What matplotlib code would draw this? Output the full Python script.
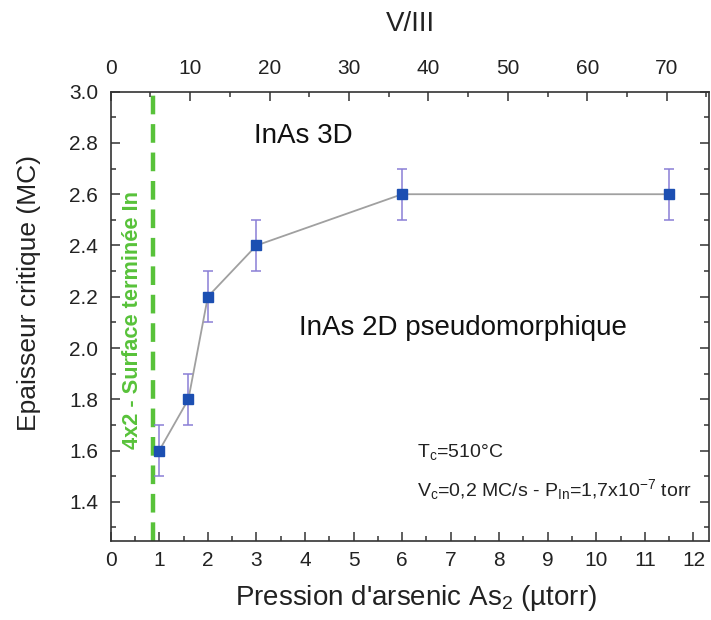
"""
Epaisseur critique InAs vs pression d'arsenic As2 (axe du haut : rapport V/III)
"""

import matplotlib
matplotlib.use('Agg')
import matplotlib.pyplot as plt
from matplotlib.ticker import MultipleLocator, FormatStrFormatter

plt.rcParams['font.family'] = ['Liberation Sans', 'DejaVu Sans']
plt.rcParams['mathtext.default'] = 'regular'

# Data
pression_as2 = [1.0, 1.6, 2.0, 3.0, 6.0, 11.5]     # µtorr
epaisseur = [1.6, 1.8, 2.2, 2.4, 2.6, 2.6]         # MC
erreur = [0.1, 0.1, 0.1, 0.1, 0.1, 0.1]
transition_4x2 = 0.88                             # green dashed line (µtorr)
v3_par_ptorr = 70 / 11.45                          # V/III per µtorr (top axis scale)

fig = plt.figure(figsize=(7.11, 6.2), dpi=100)
ax = fig.add_axes([110.7 / 711, 1 - 541 / 620, (709.5 - 110.7) / 711, (541 - 91.7) / 620])

spine_col = '#333333'
text_col = '#222222'

# Dashed line for the 4x2 reconstruction limit
ax.axvline(transition_4x2, color='#58c23a', linestyle=(0, (4.2, 2.2)), linewidth=3.2, zorder=1)
ax.text(transition_4x2 - 0.44, 2.11, '4x2 - Surface terminée In', rotation=90,
        color='#58c23a', fontsize=15.7, fontweight='bold', ha='center', va='center')

# Data with error bars
ax.errorbar(pression_as2, epaisseur, yerr=erreur, fmt='none', ecolor='#8a7fd6',
            elinewidth=1.1, capsize=3.8, capthick=1.1, zorder=2)
ax.plot(pression_as2, epaisseur, color='#a0a0a0', linewidth=1.3, zorder=3)
ax.plot(pression_as2, epaisseur, linestyle='none', marker='s', markersize=7,
        color='#1c4fb2', zorder=4)

ax.set_xlim(0, 12.33)
ax.set_ylim(1.247, 3.0)

ax.xaxis.set_major_locator(MultipleLocator(1))
ax.xaxis.set_minor_locator(MultipleLocator(0.5))
ax.set_yticks([1.4, 1.6, 1.8, 2.0, 2.2, 2.4, 2.6, 2.8, 3.0])
ax.yaxis.set_minor_locator(MultipleLocator(0.1))
ax.yaxis.set_major_formatter(FormatStrFormatter('%.1f'))

ax.tick_params(which='both', direction='in', right=True, color=spine_col, width=1.1,
               labelcolor=text_col)
ax.tick_params(which='major', length=6.5, labelsize=15)
ax.tick_params(which='minor', length=3.6)
ax.tick_params(axis='x', pad=7)
ax.tick_params(axis='y', pad=9)

for s in ax.spines.values():
    s.set_color(spine_col)
    s.set_linewidth(1.2)

ax.set_xlabel("Pression d'arsenic As$_2$ (µtorr)", fontsize=20, color=text_col)
ax.set_ylabel('Epaisseur critique (MC)', fontsize=19, color=text_col)
ax.xaxis.set_label_coords(0.51, -0.094)
ax.yaxis.set_label_coords(-0.116, 0.552)

# Top axis: V/III ratio
top = ax.twiny()
top.set_xlim(0, 12.33 * v3_par_ptorr)
top.xaxis.set_major_locator(MultipleLocator(10))
top.xaxis.set_minor_locator(MultipleLocator(5))
top.tick_params(which='both', direction='in', color=spine_col, width=1.1, labelcolor=text_col)
top.tick_params(which='major', length=6.5, labelsize=15, pad=10)
top.tick_params(which='minor', length=3.6)
for s in top.spines.values():
    s.set_visible(False)
top.set_xlabel('V/III', fontsize=20, color=text_col)
top.xaxis.set_label_coords(0.5, 1.135)

# Region labels and growth conditions
ax.text(2.95, 2.827, 'InAs 3D', fontsize=20, color='#111111', ha='left', va='center')
ax.text(3.88, 2.078, 'InAs 2D pseudomorphique', fontsize=20, color='#111111',
        ha='left', va='center')
ax.text(6.3, 1.594, 'T$_c$=510°C', fontsize=14, color=text_col, ha='left', va='center')
ax.text(6.3, 1.446, 'V$_c$=0,2 MC/s - P$_{In}$=1,7x10$^{-7}$ torr', fontsize=14,
        color=text_col, ha='left', va='center')

fig.savefig('out.png', dpi=100)
